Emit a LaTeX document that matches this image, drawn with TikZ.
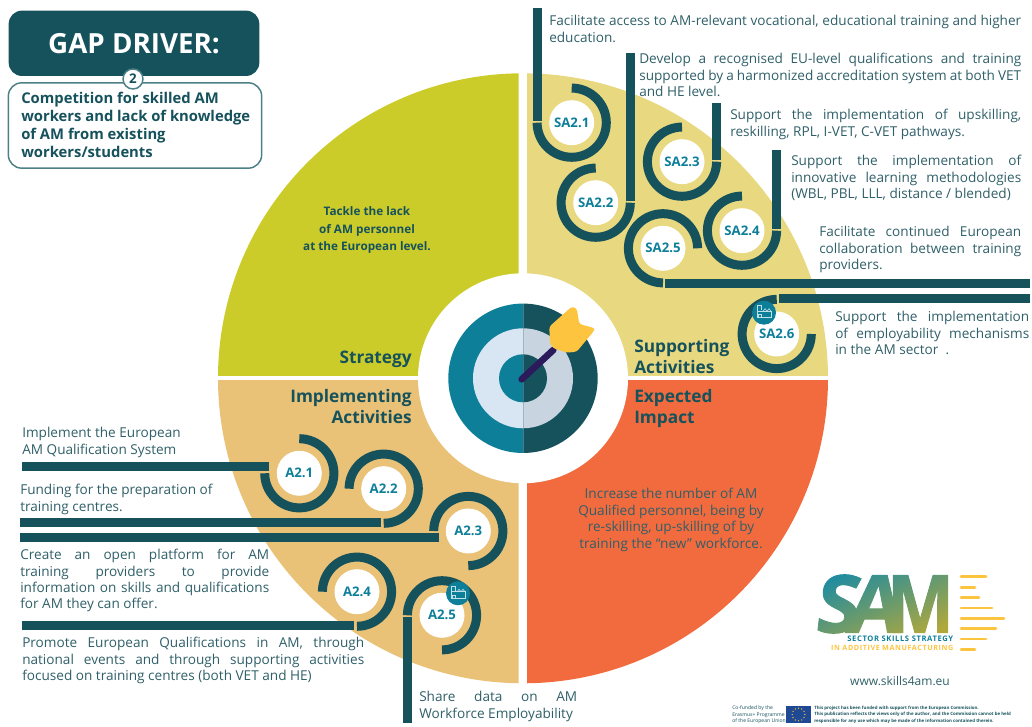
\documentclass[tikz,border=0pt]{standalone}
\usepackage{fontspec}
\setmainfont{Open Sans}
\usetikzlibrary{calc}
\definecolor{dteal}{HTML}{16525C}
\definecolor{mteal}{HTML}{0D7F99}
\definecolor{lblue}{HTML}{D7E6F2}
\definecolor{gblue}{HTML}{C8D5E0}
\definecolor{qgreen}{HTML}{CBCC2A}
\definecolor{qsand}{HTML}{E8D87F}
\definecolor{qtan}{HTML}{E9C177}
\definecolor{qorange}{HTML}{F26B3E}
\definecolor{gold}{HTML}{FDC43F}
\definecolor{navy}{HTML}{2B1B5C}
\definecolor{txt}{HTML}{2F5F68}
\definecolor{eublue}{HTML}{1F4A93}
\definecolor{boxline}{HTML}{4C8087}
\definecolor{logoa}{HTML}{1B8BA3}
\definecolor{logob}{HTML}{4F9396}
\definecolor{logoc}{HTML}{B0A83C}
\newcommand\ringarc[3]{\draw[ring] ([shift={(#2:34.6)}]#1.center) arc[start angle=#2,end angle=#3,radius=34.6];}
\newcommand\para[5]{\node[para,text width=#3*0.75pt,anchor=north west] (#5) at (#1,727-#2) {\parfillskip=0pt plus 1fil\relax\hyphenpenalty=10000\relax\strut #4};}
\newcommand\factory[2]{\node[iconc] (#1) at (#2) {};
  \begin{scope}[shift={(#1.center)},line width=.45pt,draw=white!75!mteal]
    \draw (-7,-5) rectangle (7,1.5);
    \draw (-7,1.5) -- (-7,7) -- (-3,7) -- (-3,2.5);
    \draw (-1,1.5) -- (1,4) -- (3,1.5) -- (5,4) -- (7,1.5);
    \draw (-5.5,-5) rectangle (-3,-2);
  \end{scope}}
\tikzset{
  ring/.style={draw=dteal,line width=6.75pt},
  bar/.style={draw=dteal,line width=6.75pt},
  sacirc/.style={circle,fill=white,minimum size=33.75pt,inner sep=0pt,text=mteal,font=\fontsize{9.9}{11}\selectfont\bfseries},
  para/.style={inner sep=0pt,align=justify,text=txt,font=\fontsize{10.2}{12.3}\selectfont},
  head/.style={inner sep=0pt,text=dteal,font=\fontsize{12.95}{16}\selectfont\bfseries},
  iconc/.style={circle,fill=mteal,minimum size=18pt,inner sep=0pt},
  dash line/.style={draw=gold,line width=2pt,line cap=round},
  logoletter/.style={inner sep=0pt,text=black,font=\fontsize{60}{60}\selectfont\bfseries}
}
\begin{document}
\begin{tikzpicture}[x=.75pt,y=.75pt]
\useasboundingbox (0,0) rectangle (1032,727);
% quadrants
\coordinate (c) at (523,727-378.3);
\begin{scope}\clip (218,727-376) rectangle (518.5,0+727-60);\fill[qgreen] (c) circle[radius=305];\end{scope}
\begin{scope}\clip (527,727-376) rectangle (840,727-60);\fill[qsand] (c) circle[radius=305];\end{scope}
\begin{scope}\clip (210,727-381) rectangle (518.5,727-700);\fill[qtan] (c) circle[radius=305];\end{scope}
\begin{scope}\clip (527,727-381) rectangle (840,727-700);\fill[qorange] (c) circle[radius=305];\end{scope}
\fill[white] (c) circle[radius=105];
% target
\begin{scope}\clip (c) ++(-80,-80) rectangle ($(c)+(0.3,80)$);
 \fill[mteal] (c) circle[radius=74.7];\fill[lblue] (c) circle[radius=50];\fill[mteal] (c) circle[radius=24];\end{scope}
\begin{scope}\clip ($(c)+(0.3,-80)$) rectangle ($(c)+(80,80)$);
 \fill[dteal] (c) circle[radius=74.7];\fill[gblue] (c) circle[radius=50];\fill[dteal] (c) circle[radius=24];\end{scope}
\draw[navy,line width=5pt,line cap=round] (521.7,727-379.3) -- (553.3,727-350);
\fill[gold,rounded corners=2pt] (549.3,727-326.7) -- (571.7,727-306.7) -- (576.7,727-308.3) -- (579.3,727-324) -- (595,727-328.3) -- (593.3,727-331.7) -- (576.7,727-351.7) -- (566.7,727-352.7) -- (553.3,727-348.3) -- (550,727-343.3) -- cycle;
% nodes
\node[sacirc] (sa21) at (571.7,727-122.7) {SA2.1};
\node[sacirc] (sa22) at (595.7,727-202.7) {SA2.2};
\node[sacirc] (sa23) at (682,727-161.7) {SA2.3};
\node[sacirc] (sa24) at (742,727-230.7) {SA2.4};
\node[sacirc] (sa25) at (663,727-248.3) {SA2.5};
\node[sacirc] (sa26) at (776.7,727-334) {SA2.6};
\node[sacirc] (a21) at (299.3,727-473.3) {A2.1};
\node[sacirc] (a22) at (383.7,727-488.7) {A2.2};
\node[sacirc] (a23) at (468.3,727-531) {A2.3};
\node[sacirc] (a24) at (357,727-591.7) {A2.4};
\node[sacirc] (a25) at (442,727-615.3) {A2.5};
% rings
\ringarc{sa21}{90}{-180}
\ringarc{sa22}{90}{360}
\ringarc{sa23}{90}{360}
\ringarc{sa24}{90}{360}
\ringarc{sa25}{0}{270}
\ringarc{sa26}{90}{360}
\ringarc{a21}{90}{-180}
\ringarc{a22}{-90}{180}
\ringarc{a23}{180}{-90}
\ringarc{a24}{-90}{180}
\ringarc{a25}{180}{-90}
% bars
\coordinate (b21) at (537.2,727-8.5);
\coordinate (b22) at (630.2,727-53);
\coordinate (b23) at (716.6,727-103);
\coordinate (b24) at (776.6,727-150);
\coordinate (b25) at (1030,727-283.3);
\coordinate (b26) at (1030,727-299);
\coordinate (l21) at (22,727-466.3);
\coordinate (l22) at (20,727-522.7);
\coordinate (l23) at (20,727-537.3);
\coordinate (l24) at (22,727-625.7);
\coordinate (l25) at (407.4,727-722.7);
\draw[bar,shorten >=1.5pt] (b21) -- (b21 |- sa21.center);
\draw[bar,shorten >=1.5pt] (b22) -- (b22 |- sa22.center);
\draw[bar,shorten >=1.5pt] (b23) -- (b23 |- sa23.center);
\draw[bar,shorten >=1.5pt] (b24) -- (b24 |- sa24.center);
\draw[bar,shorten >=1.5pt] (b25) -- (b25 -| sa25.center);
\draw[bar,shorten >=1.5pt] (b26) -- (b26 -| sa26.center);
\draw[bar,shorten >=22.5pt] (l21) -- (l21 -| a21.center);
\draw[bar,shorten >=2pt] (l22) -- (l22 -| a22.center);
\draw[bar,shorten >=22.2pt] (l23) -- (l23 -| a23.center);
\draw[bar,shorten >=2pt] (l24) -- (l24 -| a24.center);
\draw[bar,shorten >=1.5pt] (l25) -- (l25 |- a25.center);
\factory{ic1}{764,727-312.7}
\factory{ic2}{458,727-593.3}
% header
\node[draw=none,fill=dteal,rounded corners=10pt,minimum width=188pt,minimum height=49pt,inner sep=0pt] (gap) at (134,727-43.3) {};
\node[inner sep=0pt,text=white,font=\fontsize{20.8}{24}\selectfont\bfseries] (gaplabel) at (gap.center) {GAP DRIVER:};
\node[draw=boxline,line width=1.1pt,fill=white,rounded corners=10pt,minimum width=190pt,minimum height=64pt,inner sep=0pt] (gapbox) at (135,727-125.5) {};
\node[circle,draw=boxline,line width=1.1pt,fill=white,minimum size=15pt,inner sep=0pt,text=dteal,font=\fontsize{10}{12}\selectfont\bfseries] (two) at (133,727-79) {2};
\node[inner sep=0pt,anchor=north west,align=left,text=dteal,font=\fontsize{11.1}{13.5}\selectfont\bfseries] (gaptext) at (21,727-90.5) {\strut Competition for skilled AM\\workers and lack of knowledge\\of AM from existing\\workers/students};
% quadrant labels
\node[head,anchor=east] (strat) at (412,727-359) {Strategy};
\node[head,anchor=north west,align=left] (supp) at (634,727-339) {Supporting\\Activities};
\node[head,anchor=north east,align=right] (impl) at (412,727-389) {Implementing\\Activities};
\node[head,anchor=north west,align=left] (expi) at (634,727-389) {Expected\\Impact};
\node[inner sep=0pt,align=center,text=dteal,font=\fontsize{8.8}{12.8}\selectfont\bfseries] (tack) at (367,727-230) {Tackle the lack\\of AM personnel\\at the European level.};
\node[inner sep=0pt,align=center,text=txt,font=\fontsize{10.2}{12.4}\selectfont] (incr) at (671,727-520) {Increase the number of AM\\Qualified personnel, being by\\re-skilling, up-skilling of by\\training the “new” workforce.};
% paragraphs
\para{549}{14}{472}{Facilitate access to AM-relevant vocational, educational training and higher\linebreak education.}{t1}
\para{639}{52}{382}{Develop a recognised EU-level qualifications and training\linebreak supported by a harmonized accreditation system at both VET\linebreak and HE level.}{t2}
\para{730}{108}{291}{Support the implementation of upskilling,\linebreak reskilling, RPL, I-VET, C-VET pathways.}{t3}
\para{791}{154}{230}{Support the implementation of\linebreak innovative learning methodologies\linebreak (WBL, PBL, LLL, distance / blended)}{t4}
\para{819}{225}{202}{Facilitate continued European\linebreak collaboration between training\linebreak providers.}{t5}
\para{835}{310}{194}{Support the implementation\linebreak of employability mechanisms\linebreak in the AM sector\ \ .}{t6}
\para{22}{426}{200}{Implement the European\newline AM Qualification System}{l1}
\para{20}{483}{220}{Funding for the preparation of\newline training centres.}{l2}
\para{20}{548}{249}{Create an open platform for AM\linebreak training providers to provide\linebreak information on skills and qualifications\linebreak for AM they can offer.}{l3}
\para{22}{636}{342}{Promote European Qualifications in AM, through\linebreak national events and through supporting activities\linebreak focused on training centres (both VET and HE)}{l4}
\para{419}{690}{158}{Share data on AM\linebreak\mbox{Workforce Employability}}{l5}
% logo
\coordinate (logoll) at (806,727-636);
\coordinate (logour) at (961,727-570);
\fill[white] (logoll) rectangle (logour);
\node[logoletter] (logos) at (836,727-604) {\addfontfeature{FakeSlant=.12,FakeBold=1.2}S};
\node[logoletter] (logoa) at (873,727-604) {\addfontfeature{FakeSlant=.12,FakeBold=1.2}A};
\node[logoletter] (logom) at (920.5,727-604) {\addfontfeature{FakeStretch=.89,FakeBold=1.2}M};
\begin{scope}[blend mode=screen]
\shade[left color=logoa,middle color=logob,right color=logoc,shading angle=25] (logoll) rectangle (logour);
\end{scope}
\draw[white,line width=1.5pt] (logoll) rectangle (logour);
\foreach \yy/\xe in {576.7/986,587.3/975,597.7/979,608/992,618.3/1004,628.7/996,639/986,649.3/975}
  \draw[dash line] (961,727-\yy) -- (\xe,727-\yy);
\node[inner sep=0pt,anchor=east,text=mteal,font=\fontsize{5.7}{7}\selectfont\bfseries] (sl1) at (953.5,727-638.5) {\addfontfeature{LetterSpace=8}SECTOR SKILLS STRATEGY};
\node[inner sep=0pt,anchor=east,text=gold,font=\fontsize{5.4}{7}\selectfont\bfseries] (sl2) at (953.5,727-647.5) {\addfontfeature{LetterSpace=8}IN ADDITIVE MANUFACTURING};
\node[inner sep=0pt,text=txt,font=\fontsize{9}{11}\selectfont] (www) at (900,727-681) {www.skills4am.eu};
% footer
\node[inner sep=0pt,anchor=west,align=left,text=dteal,font=\fontsize{3.8}{4.8}\selectfont] (cof) at (732,727-715) {Co-funded by the\\Erasmus+ Programme\\of the European Union};
\node[fill=eublue,inner sep=0pt,minimum width=19pt,minimum height=13pt] (flag) at (798.5,727-714.5) {};
\foreach \a in {0,30,...,330} \fill[gold] (flag.center) ++(\a:6.3) circle[radius=.7];
\node[inner sep=0pt,anchor=west,align=left,text=dteal,font=\fontsize{3.3}{4.8}\selectfont\bfseries] (disc) at (814,727-714.5) {This project has been funded with support from the European Commission.\\This publication reflects the views only of the author, and the Commission cannot be held\\responsible for any use which may be made of the information contained therein.};
\end{tikzpicture}
\end{document}
